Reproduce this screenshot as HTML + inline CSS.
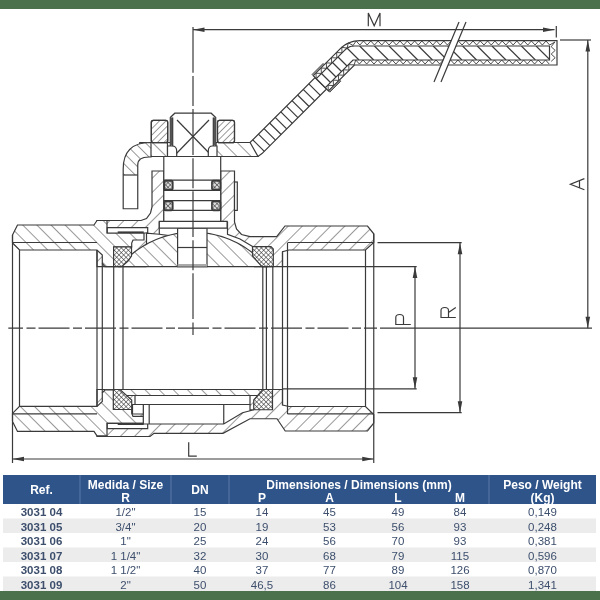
<!DOCTYPE html>
<html><head><meta charset="utf-8"><style>
html,body{margin:0;padding:0;background:#fff;}
svg{display:block;will-change:transform;}
</style></head><body>
<svg width="600" height="600" viewBox="0 0 600 600">
<defs>
<pattern id="ha" patternUnits="userSpaceOnUse" width="10" height="10" patternTransform="translate(-5 0) rotate(-45)"><line x1="0" y1="0" x2="0" y2="10" stroke="#3a3a3a" stroke-width="1.05"/></pattern>
<pattern id="hb" patternUnits="userSpaceOnUse" width="10" height="10" patternTransform="translate(4.5 0) rotate(45)"><line x1="0" y1="0" x2="0" y2="10" stroke="#3a3a3a" stroke-width="1.05"/></pattern>
<pattern id="hk" patternUnits="userSpaceOnUse" width="7.5" height="7.5" patternTransform="translate(2 0) rotate(-45)"><line x1="0" y1="0" x2="0" y2="7.5" stroke="#3a3a3a" stroke-width="1.05"/></pattern>
<pattern id="hbf" patternUnits="userSpaceOnUse" width="4.6" height="4.6" patternTransform="rotate(45)"><line x1="0" y1="0" x2="0" y2="4.6" stroke="#3a3a3a" stroke-width="1"/></pattern>
<pattern id="hx" patternUnits="userSpaceOnUse" width="3.3" height="3.3" patternTransform="rotate(45)"><path d="M0 0V3.3M0 0H3.3" stroke="#3a3a3a" stroke-width="1.05" fill="none"/></pattern>
<pattern id="hz" patternUnits="userSpaceOnUse" width="5" height="5" patternTransform="rotate(45)"><path d="M0 0V5M0 0H5" stroke="#3a3a3a" stroke-width="0.8" fill="none"/></pattern>
</defs>
<rect x="0" y="0" width="600" height="600" fill="#fff"/>
<rect x="0" y="0" width="600" height="9" fill="#4a714c"/>
<g stroke="#3a3a3a" stroke-width="1.2" fill="none" stroke-linejoin="miter">
<polygon points="97.00,220.50 141.00,220.50 146.50,218.50 150.50,213.00 152.00,207.00 152.00,171.00 163.80,171.00 163.80,221.40 220.70,221.40 220.70,171.00 234.50,171.00 234.50,222.00 236.50,229.00 241.50,234.50 250.00,236.70 276.70,236.70 285.00,226.00 367.50,226.00 373.75,233.75 373.75,242.50 365.50,250.00 289.00,250.00 282.50,251.70 282.50,266.60 97.00,266.60" fill="#fff" stroke="none"/>
<polygon points="97.00,220.50 141.00,220.50 146.50,218.50 150.50,213.00 152.00,207.00 152.00,171.00 163.80,171.00 163.80,221.40 220.70,221.40 220.70,171.00 234.50,171.00 234.50,222.00 236.50,229.00 241.50,234.50 250.00,236.70 276.70,236.70 285.00,226.00 367.50,226.00 373.75,233.75 373.75,242.50 365.50,250.00 289.00,250.00 282.50,251.70 282.50,266.60 97.00,266.60" fill="url(#hb)" />
<polygon points="97.00,436.50 150.00,436.50 154.00,433.30 223.00,433.30 250.00,418.75 277.00,418.75 285.25,431.00 367.50,431.00 373.75,423.00 373.75,414.50 365.50,406.50 289.00,406.50 282.50,405.00 282.50,389.50 97.00,389.50" fill="#fff" stroke="none"/>
<polygon points="97.00,436.50 150.00,436.50 154.00,433.30 223.00,433.30 250.00,418.75 277.00,418.75 285.25,431.00 367.50,431.00 373.75,423.00 373.75,414.50 365.50,406.50 289.00,406.50 282.50,405.00 282.50,389.50 97.00,389.50" fill="url(#hb)" />
<polygon points="12.50,235.00 17.50,225.00 94.00,225.00 97.00,220.50 107.00,220.50 107.00,233.00 144.00,233.00 144.00,240.00 133.00,240.00 131.70,243.00 131.70,247.00 113.70,247.00 113.70,266.60 105.00,266.60 102.30,263.50 102.30,255.00 97.00,250.00 19.50,250.00 12.50,243.00" fill="#fff" stroke="none"/>
<polygon points="12.50,235.00 17.50,225.00 94.00,225.00 97.00,220.50 107.00,220.50 107.00,233.00 144.00,233.00 144.00,240.00 133.00,240.00 131.70,243.00 131.70,247.00 113.70,247.00 113.70,266.60 105.00,266.60 102.30,263.50 102.30,255.00 97.00,250.00 19.50,250.00 12.50,243.00" fill="url(#ha)" />
<polygon points="12.50,421.40 17.50,431.40 94.00,431.40 97.00,435.90 107.00,435.90 107.00,423.40 144.00,423.40 144.00,416.40 133.00,416.40 131.70,413.40 131.70,409.40 113.70,409.40 113.70,389.80 105.00,389.80 102.30,392.90 102.30,401.40 97.00,406.40 19.50,406.40 12.50,413.40" fill="#fff" stroke="none"/>
<polygon points="12.50,421.40 17.50,431.40 94.00,431.40 97.00,435.90 107.00,435.90 107.00,423.40 144.00,423.40 144.00,416.40 133.00,416.40 131.70,413.40 131.70,409.40 113.70,409.40 113.70,389.80 105.00,389.80 102.30,392.90 102.30,401.40 97.00,406.40 19.50,406.40 12.50,413.40" fill="url(#ha)" />
<polygon points="107.30,227.70 147.70,227.70 147.70,233.00 107.30,233.00" fill="#fff" />
<line x1="117.7" y1="232.2" x2="143.7" y2="232.2" stroke-width="1.6"/>
<polygon points="107.30,428.70 147.70,428.70 147.70,423.40 107.30,423.40" fill="#fff" />
<line x1="117.7" y1="424.2" x2="143.7" y2="424.2" stroke-width="1.6"/>
<polygon points="146.50,233.20 159.30,234.25 159.30,221.40 227.50,221.40 227.50,234.25 240.00,239.00 254.00,247.00 254.00,270.00 146.50,270.00" fill="#fff" stroke="none"/>
<polyline points="146.5,245 146.5,233.2 159.3,234.25 177,236.6" fill="none"/>
<polyline points="159.3,221.4 159.3,234.25" fill="none"/>
<polyline points="227.5,221.4 227.5,234.25 240,239 253,246.7" fill="none"/>
<polygon points="119.37,266.60 122.13,263.44 125.03,260.41 128.06,257.50 131.21,254.73 134.48,252.10 137.86,249.62 141.34,247.28 144.93,245.10 148.60,243.08 152.37,241.22 156.20,239.53 160.11,238.01 164.09,236.66 168.11,235.48 172.19,234.48 176.30,233.66 180.45,233.02 184.62,232.57 188.81,232.29 193.00,232.20 197.19,232.29 201.38,232.57 205.55,233.02 209.70,233.66 213.81,234.48 217.89,235.48 221.91,236.66 225.89,238.01 229.80,239.53 233.63,241.22 237.40,243.08 241.07,245.10 244.66,247.28 248.14,249.62 251.52,252.10 254.79,254.73 257.94,257.50 260.97,260.41 263.87,263.44 266.63,266.60" fill="#fff" stroke="none"/>
<polygon points="119.37,266.60 122.13,263.44 125.03,260.41 128.06,257.50 131.21,254.73 134.48,252.10 137.86,249.62 141.34,247.28 144.93,245.10 148.60,243.08 152.37,241.22 156.20,239.53 160.11,238.01 164.09,236.66 168.11,235.48 172.19,234.48 176.30,233.66 180.45,233.02 184.62,232.57 188.81,232.29 193.00,232.20 197.19,232.29 201.38,232.57 205.55,233.02 209.70,233.66 213.81,234.48 217.89,235.48 221.91,236.66 225.89,238.01 229.80,239.53 233.63,241.22 237.40,243.08 241.07,245.10 244.66,247.28 248.14,249.62 251.52,252.10 254.79,254.73 257.94,257.50 260.97,260.41 263.87,263.44 266.63,266.60" fill="url(#ha)" />
<polygon points="119.12,389.50 266.88,389.50 261.46,395.50 124.54,395.50" fill="#fff" stroke="none"/>
<polygon points="119.12,389.50 266.88,389.50 261.46,395.50 124.54,395.50" fill="url(#ha)" />
<polygon points="143.30,404.50 250.00,404.50 250.00,409.75 254.00,409.75 242.50,412.75 223.75,424.00 143.30,424.00" fill="#fff" />
<line x1="223.75" y1="404.5" x2="223.75" y2="424" />
<line x1="149.2" y1="404.5" x2="149.2" y2="424" />
<polygon points="132.50,404.50 143.30,404.50 143.30,414.00 132.50,414.00" fill="#fff" />
<polygon points="135.00,395.50 250.00,395.50 250.00,404.50 135.00,404.50" fill="#fff" />
<polygon points="113.60,246.80 131.50,246.80 131.50,256.00 128.00,261.00 123.00,265.50 121.50,266.60 113.60,266.60" fill="#fff" stroke="none"/>
<polygon points="113.60,246.80 131.50,246.80 131.50,256.00 128.00,261.00 123.00,265.50 121.50,266.60 113.60,266.60" fill="url(#hx)" />
<polygon points="252.50,246.70 271.00,246.70 273.30,249.00 273.30,266.60 262.00,266.60 252.50,256.00" fill="#fff" stroke="none"/>
<polygon points="252.50,246.70 271.00,246.70 273.30,249.00 273.30,266.60 262.00,266.60 252.50,256.00" fill="url(#hx)" />
<polygon points="113.30,389.50 120.00,389.50 131.70,400.00 131.70,409.50 113.30,409.50" fill="#fff" stroke="none"/>
<polygon points="113.30,389.50 120.00,389.50 131.70,400.00 131.70,409.50 113.30,409.50" fill="url(#hx)" />
<polygon points="253.75,400.00 262.75,389.50 272.50,389.50 272.50,409.75 253.75,409.75" fill="#fff" stroke="none"/>
<polygon points="253.75,400.00 262.75,389.50 272.50,389.50 272.50,409.75 253.75,409.75" fill="url(#hx)" />
<line x1="12.5" y1="235" x2="12.5" y2="421.4" />
<line x1="19.5" y1="250" x2="19.5" y2="406.4" />
<line x1="97" y1="250" x2="97" y2="406.4" />
<line x1="102.3" y1="263.5" x2="102.3" y2="392.9" />
<line x1="113.7" y1="266.6" x2="113.7" y2="389.5" />
<line x1="123" y1="266.6" x2="123" y2="389.5" />
<line x1="262.8" y1="266.6" x2="262.8" y2="389.5" />
<line x1="266.4" y1="266.6" x2="266.4" y2="389.5" />
<line x1="272.8" y1="266.6" x2="272.8" y2="389.5" />
<line x1="282.5" y1="251.7" x2="282.5" y2="405" />
<line x1="287.5" y1="243" x2="287.5" y2="414" />
<line x1="365.5" y1="250" x2="365.5" y2="406.5" />
<line x1="373.75" y1="233.75" x2="373.75" y2="423" />
<line x1="12.5" y1="242.5" x2="97" y2="242.5" />
<line x1="12.5" y1="413.9" x2="97" y2="413.9" />
<line x1="287.5" y1="242.5" x2="373.75" y2="242.5" />
<line x1="287.5" y1="413.9" x2="373.75" y2="413.9" />
<polygon points="177.60,228.20 207.00,228.20 207.00,266.60 177.60,266.60" fill="#fff" />
<line x1="177.6" y1="247.5" x2="207" y2="247.5" />
<rect x="177.6" y="264" width="29.4" height="2.6" fill="#aaa" stroke="none"/>
<polygon points="159.30,221.40 227.10,221.40 227.10,228.20 159.30,228.20" fill="#fff" />
<polygon points="163.80,156.00 220.70,156.00 220.70,221.40 163.80,221.40" fill="#fff" />
<line x1="163.8" y1="180.2" x2="220.7" y2="180.2" />
<line x1="163.8" y1="190.3" x2="220.7" y2="190.3" />
<line x1="163.8" y1="200.7" x2="220.7" y2="200.7" />
<line x1="163.8" y1="210.4" x2="220.7" y2="210.4" />
<rect x="164.20000000000002" y="180.6" width="8.6" height="9.3" rx="1.5" fill="#777" stroke-width="1.6"/>
<circle cx="168.5" cy="185.25" r="3.4" fill="#ddd" stroke="none"/>
<circle cx="168.5" cy="185.25" r="3.4" fill="url(#hx)" stroke="none"/>
<rect x="211.9" y="180.6" width="8.6" height="9.3" rx="1.5" fill="#777" stroke-width="1.6"/>
<circle cx="216.2" cy="185.25" r="3.4" fill="#ddd" stroke="none"/>
<circle cx="216.2" cy="185.25" r="3.4" fill="url(#hx)" stroke="none"/>
<rect x="164.20000000000002" y="201.1" width="8.6" height="9.3" rx="1.5" fill="#777" stroke-width="1.6"/>
<circle cx="168.5" cy="205.75" r="3.4" fill="#ddd" stroke="none"/>
<circle cx="168.5" cy="205.75" r="3.4" fill="url(#hx)" stroke="none"/>
<rect x="211.9" y="201.1" width="8.6" height="9.3" rx="1.5" fill="#777" stroke-width="1.6"/>
<circle cx="216.2" cy="205.75" r="3.4" fill="#ddd" stroke="none"/>
<circle cx="216.2" cy="205.75" r="3.4" fill="url(#hx)" stroke="none"/>
<polygon points="140.00,142.50 250.10,142.50 315.10,77.50 326.60,89.00 262.00,153.60 258.00,156.50 140.00,156.50" fill="#fff" />
<line x1="252.8" y1="139.8" x2="264.3" y2="151.3" />
<line x1="258.4" y1="134.2" x2="269.9" y2="145.7" />
<line x1="264.0" y1="128.6" x2="275.5" y2="140.1" />
<line x1="269.6" y1="123.0" x2="281.1" y2="134.5" />
<line x1="275.2" y1="117.4" x2="286.7" y2="128.9" />
<line x1="280.8" y1="111.8" x2="292.3" y2="123.3" />
<line x1="286.4" y1="106.2" x2="297.9" y2="117.7" />
<line x1="292.0" y1="100.6" x2="303.5" y2="112.1" />
<line x1="297.6" y1="95.0" x2="309.1" y2="106.5" />
<line x1="303.2" y1="89.4" x2="314.7" y2="100.9" />
<line x1="308.8" y1="83.8" x2="320.3" y2="95.3" />
<polygon points="140.00,142.50 167.50,142.50 167.50,156.50 140.00,156.50" fill="#fff" stroke="none"/>
<polygon points="140.00,142.50 167.50,142.50 167.50,156.50 140.00,156.50" fill="url(#ha)" />
<polygon points="216.00,142.50 250.10,142.50 258.00,156.50 216.00,156.50" fill="#fff" stroke="none"/>
<polygon points="216.00,142.50 250.10,142.50 258.00,156.50 216.00,156.50" fill="url(#ha)" />
<polygon points="313.30,75.70 340.10,48.90 342.20,46.98 344.41,45.31 346.73,43.90 349.15,42.75 351.68,41.85 354.31,41.21 357.05,40.83 359.90,40.70 557.00,40.70 557.00,65.00 354.40,65.00 328.50,90.90" fill="#fff" />
<polygon points="316.30,78.70 345.30,49.70 346.25,48.83 347.24,48.08 348.29,47.45 349.38,46.92 350.51,46.52 351.69,46.23 352.92,46.06 354.20,46.00 549.50,46.00 549.50,60.00 353.00,60.00 325.30,87.70" fill="#fff" />
<polyline points="316.21,78.61 315.97,73.20 321.38,73.45 321.13,68.04 326.54,68.29 326.29,62.88 331.70,63.13 331.45,57.72 336.86,57.97 336.61,52.56 342.02,52.80 341.80,47.37 347.16,48.06 348.27,42.83 353.06,45.44 356.11,41.04 359.85,45.00 363.50,41.00 367.15,45.00 370.80,41.00 374.45,45.00 378.10,41.00 381.75,45.00 385.40,41.00 389.05,45.00 392.70,41.00 396.35,45.00 400.00,41.00 403.65,45.00 407.30,41.00 410.95,45.00 414.60,41.00 418.25,45.00 421.90,41.00 425.55,45.00 429.20,41.00 432.85,45.00 436.50,41.00 440.15,45.00 443.80,41.00 447.45,45.00 451.10,41.00 454.75,45.00 458.40,41.00 462.05,45.00 465.70,41.00 469.35,45.00 473.00,41.00 476.65,45.00 480.30,41.00 483.95,45.00 487.60,41.00 491.25,45.00 494.90,41.00 498.55,45.00 502.20,41.00 505.85,45.00 509.50,41.00 513.15,45.00 516.80,41.00 520.45,45.00 524.10,41.00 527.75,45.00 531.40,41.00 535.05,45.00 538.70,41.00 542.35,45.00 546.00,41.00 549.65,45.00 554.86,41.98 551.20,46.75 555.20,50.40 551.20,54.05 555.20,57.70 551.20,61.35" fill="none" stroke-width="0.9"/>
<polyline points="328.31,90.71 328.07,85.30 333.48,85.55 333.23,80.14 338.64,80.39 338.39,74.98 343.80,75.23 343.55,69.82 348.96,70.07 348.71,64.66 354.12,64.90 355.74,60.00 359.39,64.00 363.04,60.00 366.69,64.00 370.34,60.00 373.99,64.00 377.64,60.00 381.29,64.00 384.94,60.00 388.59,64.00 392.24,60.00 395.89,64.00 399.54,60.00 403.19,64.00 406.84,60.00 410.49,64.00 414.14,60.00 417.79,64.00 421.44,60.00 425.09,64.00 428.74,60.00 432.39,64.00 436.04,60.00 439.69,64.00 443.34,60.00 446.99,64.00 450.64,60.00 454.29,64.00 457.94,60.00 461.59,64.00 465.24,60.00 468.89,64.00 472.54,60.00 476.19,64.00 479.84,60.00 483.49,64.00 487.14,60.00 490.79,64.00 494.44,60.00 498.09,64.00 501.74,60.00 505.39,64.00 509.04,60.00 512.69,64.00 516.34,60.00 519.99,64.00 523.64,60.00 527.29,64.00 530.94,60.00 534.59,64.00 538.24,60.00 541.89,64.00 545.54,60.00 549.19,64.00" fill="none" stroke-width="0.9"/>
<clipPath id="coreclip"><polygon points="316.30,78.70 345.30,49.70 346.25,48.83 347.24,48.08 348.29,47.45 349.38,46.92 350.51,46.52 351.69,46.23 352.92,46.06 354.20,46.00 549.50,46.00 549.50,60.00 353.00,60.00 325.30,87.70"/></clipPath>
<g clip-path="url(#coreclip)"><line x1="345.0" y1="46" x2="359.0" y2="60"/><line x1="359.7" y1="46" x2="373.7" y2="60"/><line x1="374.4" y1="46" x2="388.4" y2="60"/><line x1="389.1" y1="46" x2="403.1" y2="60"/><line x1="403.8" y1="46" x2="417.8" y2="60"/><line x1="418.5" y1="46" x2="432.5" y2="60"/><line x1="433.2" y1="46" x2="447.2" y2="60"/><line x1="447.9" y1="46" x2="461.9" y2="60"/><line x1="462.6" y1="46" x2="476.6" y2="60"/><line x1="477.3" y1="46" x2="491.3" y2="60"/><line x1="492.0" y1="46" x2="506.0" y2="60"/><line x1="506.7" y1="46" x2="520.7" y2="60"/><line x1="521.4" y1="46" x2="535.4" y2="60"/><line x1="536.1" y1="46" x2="550.1" y2="60"/><line x1="550.8" y1="46" x2="564.8" y2="60"/><line x1="321.50" y1="73.50" x2="330.50" y2="82.50"/><line x1="327.00" y1="68.00" x2="336.00" y2="77.00"/><line x1="332.50" y1="62.50" x2="341.50" y2="71.50"/><line x1="338.00" y1="57.00" x2="347.00" y2="66.00"/></g>
<polygon points="312.05,74.45 313.30,75.70 324.30,64.70 323.05,63.45" fill="#888" stroke-width="0.8"/>
<polygon points="328.50,90.90 329.80,92.20 340.80,81.20 339.50,79.90" fill="#888" stroke-width="0.8"/>
<polygon points="459.00,20.00 466.00,20.00 441.00,84.00 434.00,84.00" fill="#fff" stroke="none"/>
<line x1="459" y1="22" x2="434" y2="82" />
<line x1="466" y1="22" x2="441" y2="82" />
<rect x="151.3" y="120.3" width="16.4" height="22.4" rx="2" fill="#fff"/>
<rect x="151.3" y="120.3" width="16.4" height="22.4" rx="2" fill="url(#hbf)"/>
<rect x="217.5" y="120.3" width="17" height="22.4" rx="2" fill="#fff"/>
<rect x="217.5" y="120.3" width="17" height="22.4" rx="2" fill="url(#hbf)"/>
<polygon points="170.30,117.50 174.80,113.20 211.20,113.20 215.70,117.50 215.70,156.50 170.30,156.50" fill="#fff" />
<rect x="170.6" y="117.5" width="2" height="28" fill="#555" stroke="none"/>
<rect x="213.4" y="117.5" width="2" height="28" fill="#555" stroke="none"/>
<line x1="172.7" y1="117.5" x2="172.7" y2="156.5" />
<line x1="213.3" y1="117.5" x2="213.3" y2="156.5" />
<line x1="177" y1="120" x2="211" y2="155" />
<line x1="209" y1="120" x2="175" y2="155" />
<path d="M167.5 156.5 V146 H172 Q176.7 146 176.7 151 V156.5" fill="#fff"/>
<path d="M217 156.5 V146 H212.5 Q208.3 146 208.3 151 V156.5" fill="#fff"/>
<line x1="140" y1="156.5" x2="253" y2="156.5" />
<path d="M151 142.5 H150.5 Q123.2 142.5 123.2 169 V208.75 H137.75 V165 Q137.75 157 149 157 H151 Z" fill="#fff"/>
<clipPath id="hookclip"><path d="M151 142.5 H150.5 Q123.2 142.5 123.2 169 V175 H137.75 V165 Q137.75 157 149 157 H151 Z"/></clipPath>
<g clip-path="url(#hookclip)"><rect x="110" y="130" width="50" height="50" fill="url(#hk)" stroke="none"/></g>
<line x1="123.2" y1="175" x2="137.75" y2="175" />
<rect x="234.5" y="182" width="2.8" height="28.4" fill="#fff"/>
<line x1="8.3" y1="328.2" x2="377" y2="328.2" stroke-dasharray="31 3.5 9 3" stroke-dashoffset="16.3"/>
<line x1="380" y1="328.2" x2="592" y2="328.2"/>
<line x1="193" y1="27" x2="193" y2="335" stroke-dasharray="45.8 3.3 30 3"/>
<line x1="193" y1="29.7" x2="554.5" y2="29.7" />
<polygon points="193,29.7 204.50,27.40 204.50,32.00" fill="#3a3a3a" stroke="none"/>
<polygon points="554.5,29.7 543.00,32.00 543.00,27.40" fill="#3a3a3a" stroke="none"/>
<line x1="556.3" y1="26" x2="556.3" y2="37.5" />
<line x1="560" y1="40" x2="591" y2="40" />
<line x1="587.8" y1="40" x2="587.8" y2="328.2" />
<polygon points="587.8,40 590.10,51.50 585.50,51.50" fill="#3a3a3a" stroke="none"/>
<polygon points="587.8,328.2 585.50,316.70 590.10,316.70" fill="#3a3a3a" stroke="none"/>
<line x1="282.5" y1="266.6" x2="416.7" y2="266.6" />
<line x1="282.5" y1="388.8" x2="416.7" y2="388.8" />
<line x1="415" y1="266.6" x2="415" y2="388.8" />
<polygon points="415,266.6 417.30,278.10 412.70,278.10" fill="#3a3a3a" stroke="none"/>
<polygon points="415,388.8 412.70,377.30 417.30,377.30" fill="#3a3a3a" stroke="none"/>
<line x1="377.5" y1="242.7" x2="461.7" y2="242.7" />
<line x1="377.5" y1="412.7" x2="461.7" y2="412.7" />
<line x1="460" y1="242.7" x2="460" y2="412.7" />
<polygon points="460,242.7 462.30,254.20 457.70,254.20" fill="#3a3a3a" stroke="none"/>
<polygon points="460,412.7 457.70,401.20 462.30,401.20" fill="#3a3a3a" stroke="none"/>
<line x1="12.5" y1="422" x2="12.5" y2="463" />
<line x1="373.75" y1="423" x2="373.75" y2="463" />
<line x1="12.5" y1="459" x2="373.75" y2="459" />
<polygon points="12.5,459 24.00,456.70 24.00,461.30" fill="#3a3a3a" stroke="none"/>
<polygon points="373.75,459 362.25,461.30 362.25,456.70" fill="#3a3a3a" stroke="none"/>
<path d="M368.3 26.2 V13 L374.2 25.8 L380 13 V26.2" fill="none"/>
<path d="M584.4 178.6 L570.4 184.2 L584.4 189.7 M579.5 180.6 V187.8" fill="none"/>
<path d="M410.8 324.5 H395.8 V317.5 C395.8 313.5 403.5 313.5 403.5 317.5 V324.5" fill="none"/>
<path d="M455.8 317.5 H441 V310.5 C441 306.5 448.5 306.5 448.5 310.5 V317.5 M448.5 312.5 L455.8 307.5" fill="none"/>
<path d="M188.7 442.2 V456.2 H196.8" fill="none"/>
</g>
<rect x="3" y="475" width="593" height="29" fill="#2f548a"/>
<line x1="80" y1="475" x2="80" y2="504" stroke="#5a78a8" stroke-width="1"/>
<line x1="171" y1="475" x2="171" y2="504" stroke="#5a78a8" stroke-width="1"/>
<line x1="229" y1="475" x2="229" y2="504" stroke="#5a78a8" stroke-width="1"/>
<line x1="489" y1="475" x2="489" y2="504" stroke="#5a78a8" stroke-width="1"/>
<text x="41.5" y="494" font-family="Liberation Sans, sans-serif" font-weight="bold" font-size="12" fill="#fff" text-anchor="middle">Ref.</text>
<text x="125.5" y="488.5" font-family="Liberation Sans, sans-serif" font-weight="bold" font-size="12" fill="#fff" text-anchor="middle">Medida / Size</text>
<text x="125.5" y="502" font-family="Liberation Sans, sans-serif" font-weight="bold" font-size="12" fill="#fff" text-anchor="middle">R</text>
<text x="200" y="494" font-family="Liberation Sans, sans-serif" font-weight="bold" font-size="12" fill="#fff" text-anchor="middle">DN</text>
<text x="359" y="488.5" font-family="Liberation Sans, sans-serif" font-weight="bold" font-size="12" fill="#fff" text-anchor="middle">Dimensiones / Dimensions (mm)</text>
<text x="262" y="502" font-family="Liberation Sans, sans-serif" font-weight="bold" font-size="12" fill="#fff" text-anchor="middle">P</text>
<text x="329.5" y="502" font-family="Liberation Sans, sans-serif" font-weight="bold" font-size="12" fill="#fff" text-anchor="middle">A</text>
<text x="398" y="502" font-family="Liberation Sans, sans-serif" font-weight="bold" font-size="12" fill="#fff" text-anchor="middle">L</text>
<text x="460" y="502" font-family="Liberation Sans, sans-serif" font-weight="bold" font-size="12" fill="#fff" text-anchor="middle">M</text>
<text x="542.5" y="488.5" font-family="Liberation Sans, sans-serif" font-weight="bold" font-size="12" fill="#fff" text-anchor="middle">Peso / Weight</text>
<text x="542.5" y="502" font-family="Liberation Sans, sans-serif" font-weight="bold" font-size="12" fill="#fff" text-anchor="middle">(Kg)</text>
<text x="41.5" y="516.0" font-family="Liberation Sans, sans-serif" font-weight="bold" font-size="11.5" fill="#3d4f6d" text-anchor="middle">3031 04</text>
<text x="125.5" y="516.0" font-family="Liberation Sans, sans-serif" font-weight="normal" font-size="11.5" fill="#3d4f6d" text-anchor="middle">1/2"</text>
<text x="200" y="516.0" font-family="Liberation Sans, sans-serif" font-weight="normal" font-size="11.5" fill="#3d4f6d" text-anchor="middle">15</text>
<text x="262" y="516.0" font-family="Liberation Sans, sans-serif" font-weight="normal" font-size="11.5" fill="#3d4f6d" text-anchor="middle">14</text>
<text x="329.5" y="516.0" font-family="Liberation Sans, sans-serif" font-weight="normal" font-size="11.5" fill="#3d4f6d" text-anchor="middle">45</text>
<text x="398" y="516.0" font-family="Liberation Sans, sans-serif" font-weight="normal" font-size="11.5" fill="#3d4f6d" text-anchor="middle">49</text>
<text x="460" y="516.0" font-family="Liberation Sans, sans-serif" font-weight="normal" font-size="11.5" fill="#3d4f6d" text-anchor="middle">84</text>
<text x="542.5" y="516.0" font-family="Liberation Sans, sans-serif" font-weight="normal" font-size="11.5" fill="#3d4f6d" text-anchor="middle">0,149</text>
<rect x="3" y="518.5" width="593" height="14.5" fill="#ececec"/>
<text x="41.5" y="530.5" font-family="Liberation Sans, sans-serif" font-weight="bold" font-size="11.5" fill="#3d4f6d" text-anchor="middle">3031 05</text>
<text x="125.5" y="530.5" font-family="Liberation Sans, sans-serif" font-weight="normal" font-size="11.5" fill="#3d4f6d" text-anchor="middle">3/4"</text>
<text x="200" y="530.5" font-family="Liberation Sans, sans-serif" font-weight="normal" font-size="11.5" fill="#3d4f6d" text-anchor="middle">20</text>
<text x="262" y="530.5" font-family="Liberation Sans, sans-serif" font-weight="normal" font-size="11.5" fill="#3d4f6d" text-anchor="middle">19</text>
<text x="329.5" y="530.5" font-family="Liberation Sans, sans-serif" font-weight="normal" font-size="11.5" fill="#3d4f6d" text-anchor="middle">53</text>
<text x="398" y="530.5" font-family="Liberation Sans, sans-serif" font-weight="normal" font-size="11.5" fill="#3d4f6d" text-anchor="middle">56</text>
<text x="460" y="530.5" font-family="Liberation Sans, sans-serif" font-weight="normal" font-size="11.5" fill="#3d4f6d" text-anchor="middle">93</text>
<text x="542.5" y="530.5" font-family="Liberation Sans, sans-serif" font-weight="normal" font-size="11.5" fill="#3d4f6d" text-anchor="middle">0,248</text>
<text x="41.5" y="545.0" font-family="Liberation Sans, sans-serif" font-weight="bold" font-size="11.5" fill="#3d4f6d" text-anchor="middle">3031 06</text>
<text x="125.5" y="545.0" font-family="Liberation Sans, sans-serif" font-weight="normal" font-size="11.5" fill="#3d4f6d" text-anchor="middle">1"</text>
<text x="200" y="545.0" font-family="Liberation Sans, sans-serif" font-weight="normal" font-size="11.5" fill="#3d4f6d" text-anchor="middle">25</text>
<text x="262" y="545.0" font-family="Liberation Sans, sans-serif" font-weight="normal" font-size="11.5" fill="#3d4f6d" text-anchor="middle">24</text>
<text x="329.5" y="545.0" font-family="Liberation Sans, sans-serif" font-weight="normal" font-size="11.5" fill="#3d4f6d" text-anchor="middle">56</text>
<text x="398" y="545.0" font-family="Liberation Sans, sans-serif" font-weight="normal" font-size="11.5" fill="#3d4f6d" text-anchor="middle">70</text>
<text x="460" y="545.0" font-family="Liberation Sans, sans-serif" font-weight="normal" font-size="11.5" fill="#3d4f6d" text-anchor="middle">93</text>
<text x="542.5" y="545.0" font-family="Liberation Sans, sans-serif" font-weight="normal" font-size="11.5" fill="#3d4f6d" text-anchor="middle">0,381</text>
<rect x="3" y="547.5" width="593" height="14.5" fill="#ececec"/>
<text x="41.5" y="559.5" font-family="Liberation Sans, sans-serif" font-weight="bold" font-size="11.5" fill="#3d4f6d" text-anchor="middle">3031 07</text>
<text x="125.5" y="559.5" font-family="Liberation Sans, sans-serif" font-weight="normal" font-size="11.5" fill="#3d4f6d" text-anchor="middle">1 1/4"</text>
<text x="200" y="559.5" font-family="Liberation Sans, sans-serif" font-weight="normal" font-size="11.5" fill="#3d4f6d" text-anchor="middle">32</text>
<text x="262" y="559.5" font-family="Liberation Sans, sans-serif" font-weight="normal" font-size="11.5" fill="#3d4f6d" text-anchor="middle">30</text>
<text x="329.5" y="559.5" font-family="Liberation Sans, sans-serif" font-weight="normal" font-size="11.5" fill="#3d4f6d" text-anchor="middle">68</text>
<text x="398" y="559.5" font-family="Liberation Sans, sans-serif" font-weight="normal" font-size="11.5" fill="#3d4f6d" text-anchor="middle">79</text>
<text x="460" y="559.5" font-family="Liberation Sans, sans-serif" font-weight="normal" font-size="11.5" fill="#3d4f6d" text-anchor="middle">115</text>
<text x="542.5" y="559.5" font-family="Liberation Sans, sans-serif" font-weight="normal" font-size="11.5" fill="#3d4f6d" text-anchor="middle">0,596</text>
<text x="41.5" y="574.0" font-family="Liberation Sans, sans-serif" font-weight="bold" font-size="11.5" fill="#3d4f6d" text-anchor="middle">3031 08</text>
<text x="125.5" y="574.0" font-family="Liberation Sans, sans-serif" font-weight="normal" font-size="11.5" fill="#3d4f6d" text-anchor="middle">1 1/2"</text>
<text x="200" y="574.0" font-family="Liberation Sans, sans-serif" font-weight="normal" font-size="11.5" fill="#3d4f6d" text-anchor="middle">40</text>
<text x="262" y="574.0" font-family="Liberation Sans, sans-serif" font-weight="normal" font-size="11.5" fill="#3d4f6d" text-anchor="middle">37</text>
<text x="329.5" y="574.0" font-family="Liberation Sans, sans-serif" font-weight="normal" font-size="11.5" fill="#3d4f6d" text-anchor="middle">77</text>
<text x="398" y="574.0" font-family="Liberation Sans, sans-serif" font-weight="normal" font-size="11.5" fill="#3d4f6d" text-anchor="middle">89</text>
<text x="460" y="574.0" font-family="Liberation Sans, sans-serif" font-weight="normal" font-size="11.5" fill="#3d4f6d" text-anchor="middle">126</text>
<text x="542.5" y="574.0" font-family="Liberation Sans, sans-serif" font-weight="normal" font-size="11.5" fill="#3d4f6d" text-anchor="middle">0,870</text>
<rect x="3" y="576.5" width="593" height="14.5" fill="#ececec"/>
<text x="41.5" y="588.5" font-family="Liberation Sans, sans-serif" font-weight="bold" font-size="11.5" fill="#3d4f6d" text-anchor="middle">3031 09</text>
<text x="125.5" y="588.5" font-family="Liberation Sans, sans-serif" font-weight="normal" font-size="11.5" fill="#3d4f6d" text-anchor="middle">2"</text>
<text x="200" y="588.5" font-family="Liberation Sans, sans-serif" font-weight="normal" font-size="11.5" fill="#3d4f6d" text-anchor="middle">50</text>
<text x="262" y="588.5" font-family="Liberation Sans, sans-serif" font-weight="normal" font-size="11.5" fill="#3d4f6d" text-anchor="middle">46,5</text>
<text x="329.5" y="588.5" font-family="Liberation Sans, sans-serif" font-weight="normal" font-size="11.5" fill="#3d4f6d" text-anchor="middle">86</text>
<text x="398" y="588.5" font-family="Liberation Sans, sans-serif" font-weight="normal" font-size="11.5" fill="#3d4f6d" text-anchor="middle">104</text>
<text x="460" y="588.5" font-family="Liberation Sans, sans-serif" font-weight="normal" font-size="11.5" fill="#3d4f6d" text-anchor="middle">158</text>
<text x="542.5" y="588.5" font-family="Liberation Sans, sans-serif" font-weight="normal" font-size="11.5" fill="#3d4f6d" text-anchor="middle">1,341</text>
<rect x="0" y="591" width="600" height="9" fill="#4a714c"/>
</svg>
</body></html>
